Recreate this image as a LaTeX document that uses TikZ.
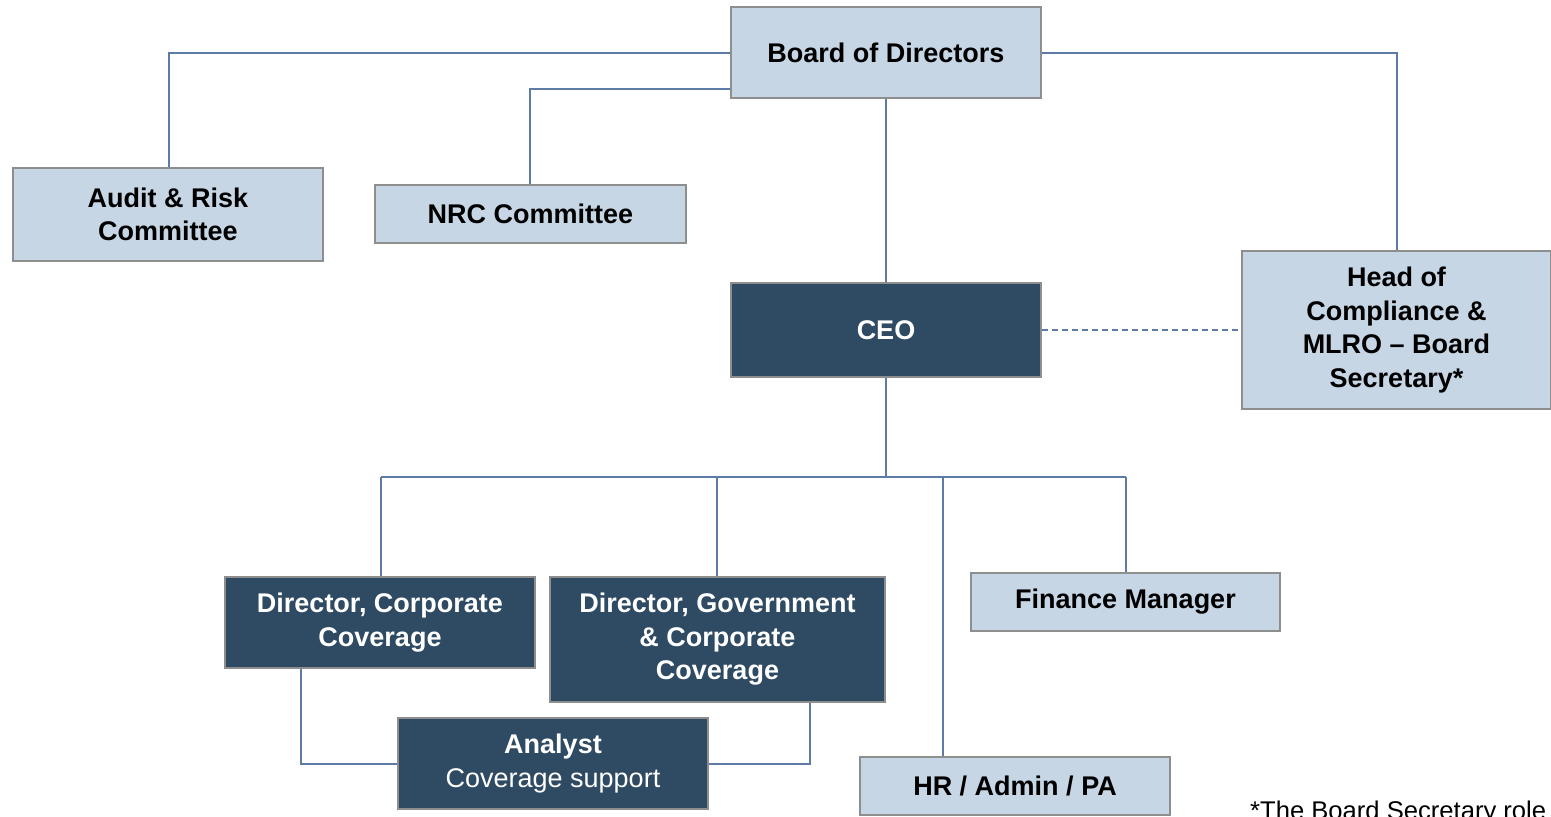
\documentclass[tikz,border=0pt]{standalone}
\usepackage{fontspec}
\setmainfont{Liberation Sans}
\definecolor{lightbox}{HTML}{C6D6E5}
\definecolor{darkbox}{HTML}{2F4A63}
\definecolor{boxedge}{HTML}{8E8E8E}
\definecolor{linkc}{HTML}{5E7BA6}
\tikzset{
  base/.style={rectangle, draw=boxedge, line width=1.3pt, inner sep=0pt, align=center,
    font=\fontsize{27}{33.5}\selectfont\bfseries},
  lbox/.style={base, fill=lightbox, text=black},
  dbox/.style={base, fill=darkbox, text=white},
  link/.style={draw=linkc, line width=1.3pt},
}
\begin{document}
\begin{tikzpicture}[x=1pt,y=-1pt]
\useasboundingbox[fill=white] (0,0) rectangle (1551,817);
% boxes (pixel coordinates)
\node[lbox, minimum width=310pt, minimum height=91pt] (board) at (886,52.5) {Board of Directors};
\node[lbox, minimum width=310pt, minimum height=93pt] (audit) at (168,214.5) {Audit \& Risk\\Committee};
\node[lbox, minimum width=311pt, minimum height=58pt] (nrc) at (530.5,214) {NRC Committee};
\node[dbox, minimum width=310pt, minimum height=94pt] (ceo) at (886,330) {CEO};
\node[lbox, minimum width=309pt, minimum height=158pt] (head) at (1396.5,330) {Head of\\Compliance \&\\MLRO -- Board\\Secretary*};
\node[dbox, minimum width=310pt, minimum height=91pt] (dcorp) at (380,622.5) {Director, Corporate\\Coverage};
\node[dbox, minimum width=335pt, minimum height=125pt] (dgov) at (717.5,639.5) {Director, Government\\\& Corporate\\Coverage};
\node[lbox, minimum width=309pt, minimum height=58pt] (fin) at (1125.5,602) {Finance Manager};
\node[dbox, minimum width=310pt, minimum height=91pt] (analyst) at (553,763.5) {Analyst\\{\mdseries Coverage support}};
\node[lbox, minimum width=310pt, minimum height=58pt] (hr) at (1015,786) {HR / Admin / PA};
\node[anchor=base west, inner sep=0pt, font=\fontsize{25.6}{30}\selectfont] (note) at (1250,819) {*The Board Secretary role};
% helper coordinates
\coordinate (ba) at (169,53);
\coordinate (bn) at (530,89);
\coordinate (bh) at (1397,53);
\coordinate (hub) at (886,477);
\coordinate (h1) at (381,477);
\coordinate (h2) at (717,477);
\coordinate (h3) at (943,477);
\coordinate (h4) at (1126,477);
\coordinate (c1) at (301,764);
\coordinate (c2) at (810,764);
% connectors
\draw[link] (board.west |- ba) -- (ba) -- (ba |- audit.north);
\draw[link] (board.west |- bn) -- (bn) -- (bn |- nrc.north);
\draw[link] (board.east |- bh) -- (bh) -- (bh |- head.north);
\draw[link] (board.south) -- (ceo.north);
\draw[link, dashed, dash pattern=on 6pt off 4pt] (ceo.east) -- (head.west);
\draw[link] (ceo.south) -- (hub);
\draw[link] (h1) -- (h4);
\draw[link] (h1) -- (h1 |- dcorp.north);
\draw[link] (h2) -- (h2 |- dgov.north);
\draw[link] (h3) -- (h3 |- hr.north);
\draw[link] (h4) -- (h4 |- fin.north);
\draw[link] (c1 |- dcorp.south) -- (c1) -- (analyst.west |- c1);
\draw[link] (c2 |- dgov.south) -- (c2) -- (analyst.east |- c2);
\end{tikzpicture}
\end{document}
